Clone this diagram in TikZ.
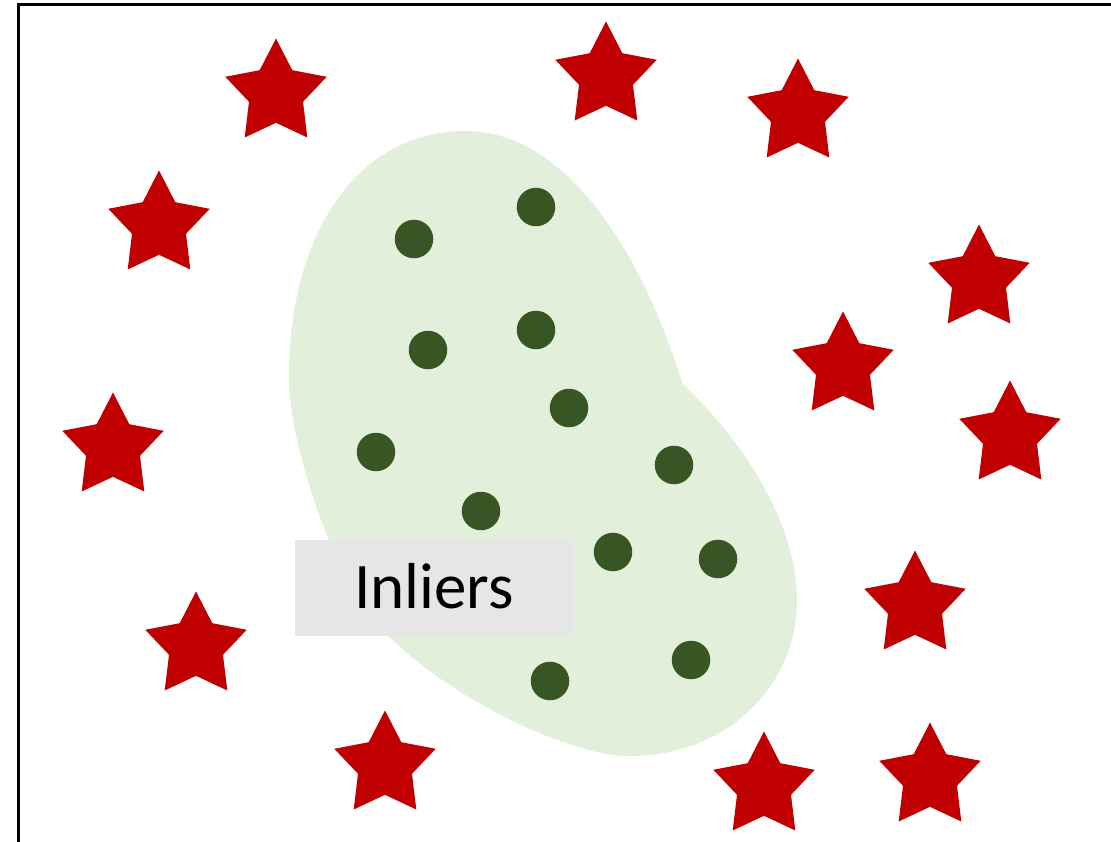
\documentclass[tikz,border=0pt]{standalone}
\usepackage{fontspec}
\setmainfont{Carlito}
\definecolor{starred}{HTML}{C00000}
\definecolor{blobgreen}{HTML}{E2EFDA}
\definecolor{dotgreen}{HTML}{375623}
\definecolor{labelgray}{HTML}{E7E6E6}
\tikzset{
  outlier/.pic={\fill[starred] (0,-49.5) -- (16.3,-17.8) -- (50.7,-11.2) -- (27,13.8) -- (31.3,49.5) -- (0,34.8) -- (-31.3,49.5) -- (-27,13.8) -- (-50.7,-11.2) -- (-16.3,-17.8) -- cycle;},
  inlier/.style={circle, fill=dotgreen, minimum size=38.5pt, inner sep=0pt},
  labelbox/.style={fill=labelgray, minimum width=278pt, minimum height=96pt, inner sep=0pt,
    text height=41pt, text depth=0pt, font=\fontsize{65}{70}\selectfont},
  frameline/.style={draw=black, line width=3pt}
}
\begin{document}
\begin{tikzpicture}[x=1pt, y=-1pt]
\useasboundingbox (0,0) rectangle (1111,842);
\clip (0,0) rectangle (1111,842);
\fill[white] (0,0) rectangle (1111,842);
\draw[frameline] (18.7,4.7) rectangle (1200,950);
% cluster region
\fill[blobgreen] (682,383) .. controls (752,450) and (797,530) .. (797,600)
  .. controls (797,688) and (724,756) .. (631,756)
  .. controls (560,758) and (385,668) .. (348,580)
  .. controls (325,540) and (289,440) .. (289,377)
  .. controls (289,230) and (360,131) .. (465,131)
  .. controls (575,131) and (649,273) .. (682,383) -- cycle;
% inliers
\node[inlier] (d1) at (536,207) {};
\node[inlier] (d2) at (414,239) {};
\node[inlier] (d3) at (428,350) {};
\node[inlier] (d4) at (536,330) {};
\node[inlier] (d5) at (569,408) {};
\node[inlier] (d6) at (376,452) {};
\node[inlier] (d7) at (674,465) {};
\node[inlier] (d8) at (481,511) {};
\node[inlier] (d9) at (613,552) {};
\node[inlier] (d10) at (718,559) {};
\node[inlier] (d11) at (691,660) {};
\node[inlier] (d12) at (550,681) {};
% label
\node[labelbox] (lab) at (434,588) {Inliers};
% outliers
\pic (s1) at (276,88) {outlier};
\pic (s2) at (606,71) {outlier};
\pic (s3) at (798,108) {outlier};
\pic (s4) at (159,220) {outlier};
\pic (s5) at (979,274) {outlier};
\pic (s6) at (843,361) {outlier};
\pic (s7) at (1010,430) {outlier};
\pic (s8) at (113,442) {outlier};
\pic (s9) at (915,600) {outlier};
\pic (s10) at (196,641) {outlier};
\pic (s11) at (385,760) {outlier};
\pic (s12) at (764,781) {outlier};
\pic (s13) at (930,772) {outlier};
\end{tikzpicture}
\end{document}
